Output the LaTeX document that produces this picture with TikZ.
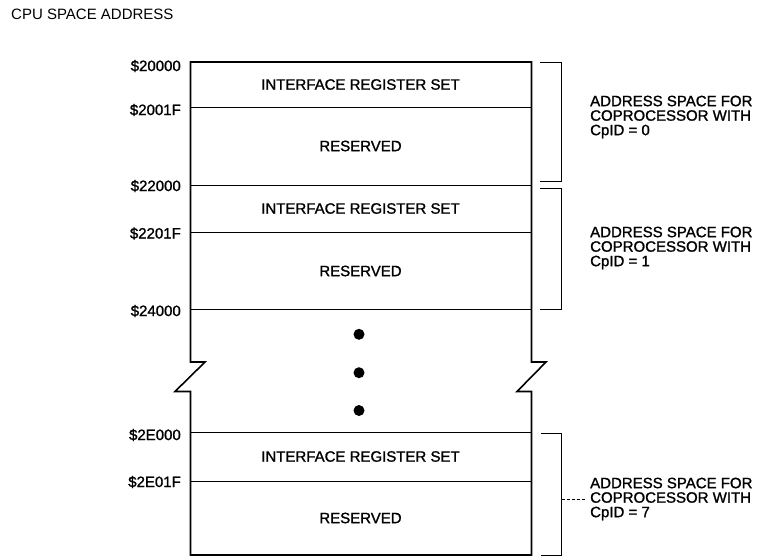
\documentclass[tikz,border=0pt]{standalone}
\usepackage{fontspec}
\setmainfont{Liberation Sans}
\newfontfamily\heavyfont[FakeBold=1.3]{Liberation Sans}
\begin{document}
\begin{tikzpicture}[x=1pt,y=-1pt,
  every node/.style={font=\fontsize{15}{14.5}\selectfont\heavyfont, inner sep=0pt},
  outer/.style={line width=1.6pt, line join=miter},
  inner/.style={line width=0.9pt},
  thickline/.style={line width=1.5pt},
  brk/.style={line width=1pt},
  addr/.style={anchor=east},
  side/.style={anchor=west, align=left},
  dotmark/.style={fill=black, circle, minimum size=11pt, inner sep=0pt},
  leader/.style={line width=0.7pt, dash pattern=on 3pt off 2pt, shorten >=5pt}
  ]
\useasboundingbox (0,0) rectangle (760,558);

% title
\node[anchor=west, font=\fontsize{15}{14.5}\selectfont\rmfamily] (title) at (11,14) {CPU SPACE ADDRESS};

% inner dividing lines
\draw[inner] (190.5,107) -- (531.5,107);
\draw[inner] (190.5,185) -- (531.5,185);
\draw[inner] (190.5,232.5) -- (531.5,232.5);
\draw[thickline] (190.5,309.5) -- (531.5,309.5);
\draw[inner] (190.5,432.5) -- (531.5,432.5);
\draw[inner] (190.5,481) -- (531.5,481);

% outline with break marks
\draw[outer] (205,362) -- (190.5,362) -- (190.5,62) -- (531.5,62) -- (531.5,362)
  -- (546,362) -- (517,391.5) -- (531.5,391.5) -- (531.5,555) -- (190.5,555)
  -- (190.5,391.5) -- (175,391.5) -- cycle;

% section texts
\node (irs0) at (360.5,84.5) {INTERFACE REGISTER SET};
\node (res0) at (360.5,146) {RESERVED};
\node (irs1) at (360.5,208.5) {INTERFACE REGISTER SET};
\node (res1) at (360.5,271) {RESERVED};
\node (irs7) at (360.5,456.5) {INTERFACE REGISTER SET};
\node (res7) at (360.5,518) {RESERVED};

% ellipsis dots
\node[dotmark] (d1) at (359,334.3) {};
\node[dotmark] (d2) at (359,372.7) {};
\node[dotmark] (d3) at (359,410.5) {};

% address labels
\node[addr] (a1) at (181,66) {\$20000};
\node[addr] (a2) at (181,110) {\$2001F};
\node[addr] (a3) at (181,186) {\$22000};
\node[addr] (a4) at (181,233.5) {\$2201F};
\node[addr] (a5) at (181,311) {\$24000};
\node[addr] (a6) at (181,435) {\$2E000};
\node[addr] (a7) at (181,482) {\$2E01F};

% brackets
\draw[brk] (540,62) -- (561,62) -- (561,181.5) -- (540,181.5);
\draw[brk] (540,188.5) -- (561,188.5) -- (561,309) -- (540,309);
\draw[brk] (541,433) -- (561.5,433) -- (561.5,555) -- (541,555);

% side texts
\node[side] (t0) at (590,117) {ADDRESS SPACE FOR\\COPROCESSOR WITH\\CpID = 0};
\node[side] (t1) at (590,248) {ADDRESS SPACE FOR\\COPROCESSOR WITH\\CpID = 1};
\node[side] (t7) at (590,499) {ADDRESS SPACE FOR\\COPROCESSOR WITH\\CpID = 7};

\coordinate (b7) at (561.5,499);
\draw[leader] (b7) -- (t7.west);
\end{tikzpicture}
\end{document}
